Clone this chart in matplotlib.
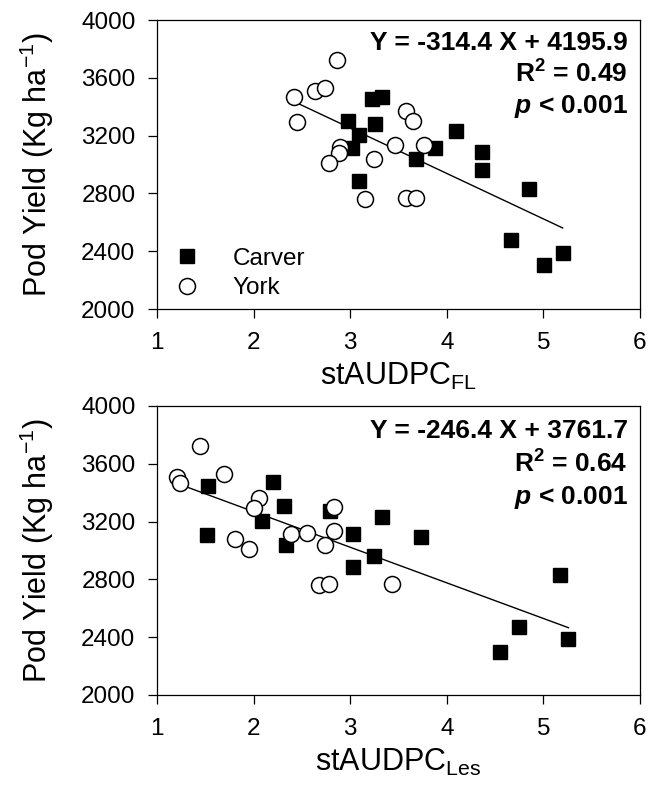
import numpy as np
import matplotlib
matplotlib.use('Agg')
import matplotlib.pyplot as plt

plt.rcParams['font.family'] = ['Liberation Sans', 'DejaVu Sans']
plt.rcParams['mathtext.fontset'] = 'custom'
plt.rcParams['mathtext.rm'] = 'Liberation Sans'
plt.rcParams['mathtext.it'] = 'Liberation Sans:italic'
plt.rcParams['mathtext.bf'] = 'Liberation Sans:bold'
plt.rcParams['mathtext.bfit'] = 'Liberation Sans:italic:bold'
plt.rcParams['mathtext.default'] = 'regular'

# stAUDPC flag leaf panel
fl_carver_x = [3.23, 3.33, 2.98, 3.26, 3.09, 3.02, 3.09, 3.88, 4.10, 3.68, 4.36, 4.36, 4.85, 4.66, 5.01, 5.20]
fl_carver_y = [3452, 3470, 3304, 3279, 3205, 3113, 2883, 3113, 3235, 3037, 3090, 2959, 2832, 2475, 2302, 2387]
fl_york_x = [2.86, 2.42, 2.64, 2.74, 2.45, 3.58, 3.65, 2.89, 2.88, 2.78, 3.25, 3.46, 3.76, 3.15, 3.58, 3.68]
fl_york_y = [3723, 3470, 3509, 3528, 3297, 3371, 3300, 3124, 3078, 3009, 3037, 3134, 3134, 2760, 2767, 2767]
fl_fit = (-314.4, 4195.9)
fl_stats = ['Y = -314.4 X + 4195.9', 'R$^2$ = 0.49', r'$\mathbfit{p}$ < 0.001']

# stAUDPC lesion panel
les_carver_x = [1.53, 1.52, 2.20, 2.31, 2.09, 2.34, 2.79, 3.03, 3.03, 3.25, 3.33, 3.73, 5.17, 4.75, 4.55, 5.26]
les_carver_y = [3445, 3106, 3472, 3306, 3203, 3037, 3274, 3113, 2887, 2961, 3233, 3090, 2830, 2472, 2300, 2385]
les_york_x = [1.44, 1.21, 1.24, 1.69, 2.06, 2.00, 1.81, 1.95, 2.39, 2.55, 2.83, 2.83, 2.74, 2.68, 2.78, 3.43]
les_york_y = [3724, 3509, 3470, 3528, 3366, 3297, 3078, 3007, 3113, 3122, 3302, 3134, 3037, 2760, 2767, 2767]
les_fit = (-246.4, 3761.7)
les_stats = ['Y = -246.4 X + 3761.7', 'R$^2$ = 0.64', r'$\mathbfit{p}$ < 0.001']

x_ticks = [1, 2, 3, 4, 5, 6]
y_ticks = [2000, 2400, 2800, 3200, 3600, 4000]


def draw_panel(ax, cx, cy, yx, yy, fit, stats, xlabel, stat_y):
    ax.plot(cx, cy, 's', color='black', markersize=10.5, label='Carver', zorder=3)
    ax.plot(yx, yy, 'o', markerfacecolor='white', markeredgecolor='black',
            markeredgewidth=1.1, markersize=11.5, label='York', zorder=4)
    xs = np.array([min(cx + yx), max(cx + yx)])
    ax.plot(xs, fit[0] * xs + fit[1], color='black', linewidth=1.0, zorder=2)
    ax.set_xlim(1, 6)
    ax.set_ylim(2000, 4000)
    ax.set_xticks(x_ticks)
    ax.set_yticks(y_ticks)
    ax.tick_params(direction='out', length=6.5, width=0.9, labelsize=17.5, pad=10,
                   top=False, right=False)
    ax.tick_params(axis='y', pad=9)
    for s in ax.spines.values():
        s.set_linewidth(0.9)
    ax.set_xlabel(xlabel, fontsize=22, labelpad=5)
    ax.set_ylabel('Pod Yield (Kg ha$^{-1}$)', fontsize=22)
    ax.yaxis.set_label_coords(-0.21, 0.5)
    for txt, yf in zip(stats, stat_y):
        ax.text(0.975, yf, txt, transform=ax.transAxes, ha='right', va='center',
                fontsize=19, fontweight='bold')


fig = plt.figure(figsize=(6.57, 7.94), dpi=100)
ax1 = fig.add_axes([0.239, 0.6108, 0.735, 0.364])
ax2 = fig.add_axes([0.239, 0.1247, 0.735, 0.364])

draw_panel(ax1, fl_carver_x, fl_carver_y, fl_york_x, fl_york_y, fl_fit, fl_stats,
           'stAUDPC$_{FL}$', [0.922, 0.813, 0.702])
draw_panel(ax2, les_carver_x, les_carver_y, les_york_x, les_york_y, les_fit, les_stats,
           'stAUDPC$_{Les}$', [0.914, 0.800, 0.684])

ax1.legend(loc='lower left', bbox_to_anchor=(0, 0), frameon=False, fontsize=17.5,
           borderaxespad=0, borderpad=0.4, handlelength=1.7, handletextpad=1.0,
           labelspacing=0.3)

fig.savefig('out.png', dpi=100)
